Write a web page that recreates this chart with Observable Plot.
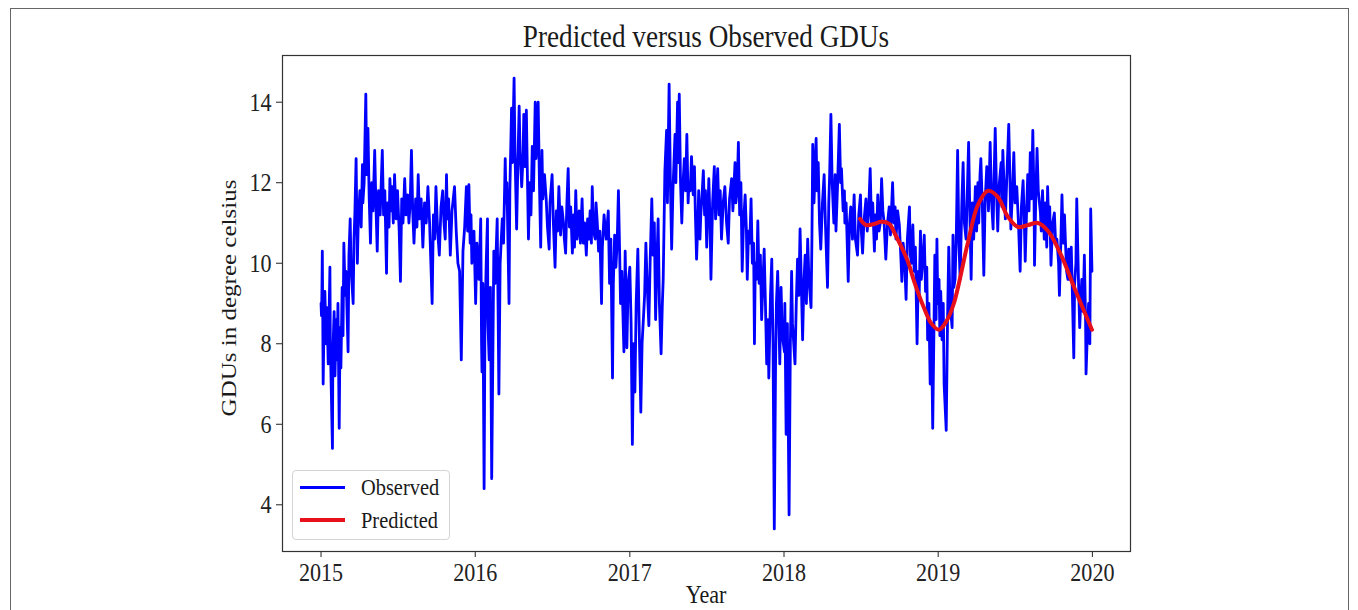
<!DOCTYPE html>
<html><head><meta charset="utf-8">
<script src="https://cdn.jsdelivr.net/npm/d3@7"></script>
<script src="https://cdn.jsdelivr.net/npm/@observablehq/plot@0.6"></script>
<style>
html,body{margin:0;padding:0;background:#fff;}
#wrap{position:relative;width:1358px;height:610px;overflow:hidden;font-family:"Liberation Serif","Times New Roman",serif;color:#1a1a1a;}
#border{position:absolute;left:10px;top:8px;width:1339px;height:700px;border:1px solid #666;box-sizing:border-box;}
#chart{position:absolute;left:0;top:0;}
.t{position:absolute;white-space:nowrap;line-height:1;}
</style></head><body>
<div id="wrap">
<div id="border"></div>
<div id="chart"></div>
<div id="title" class="t">Predicted versus Observed GDUs</div>
<div id="ylab" class="t">GDUs in degree celsius</div>
<div id="xlab" class="t">Year</div>
<div id="legend"></div>
</div>
<script>
// ---- data (day offset from 2015-01-01, GDUs in °C) ----
const obsSeries = [
[0,9.0],[1,8.7],[2,9.2],[3,10.3],[4,8.8],[5,7.0],[7,8.5],[9,9.3],[12,8.0],[14,8.9],[17,7.5],[21,9.9],[22,8.0],[27,5.4],[28,7.8],[31,8.8],[33,7.2],[36,8.6],[38,7.6],[40,9.0],[43,5.9],[45,8.4],[47,7.4],[50,9.4],[52,8.2],[54,10.5],[57,9.2],[59,9.8],[64,7.8],[66,10.2],[69,11.1],[71,9.9],[76,9.0],[78,10.6],[80,11.2],[83,12.6],[85,10.8],[86,10.0],[88,11.0],[92,11.8],[95,10.9],[98,12.45],[99,11.5],[102,12.0],[106,14.2],[108,12.2],[111,13.35],[114,11.6],[117,10.5],[120,12.0],[123,11.3],[127,12.8],[130,11.4],[133,10.3],[136,11.8],[140,11.2],[145,12.8],[148,11.2],[151,11.8],[155,9.75],[157,11.5],[161,10.9],[163,12.1],[166,11.3],[168,11.9],[171,11.0],[174,12.2],[178,11.1],[181,11.8],[185,10.8],[188,9.55],[191,11.6],[194,11.0],[198,12.1],[201,11.2],[205,11.7],[208,11.0],[211,11.5],[214,12.8],[217,11.3],[220,10.5],[224,11.6],[227,10.9],[230,12.2],[233,11.1],[237,11.6],[241,10.4],[245,11.5],[249,11.0],[253,11.9],[257,11.0],[263,9.0],[266,11.2],[269,10.6],[272,11.9],[276,10.8],[280,10.2],[284,11.4],[288,11.8],[291,11.0],[294,10.6],[297,12.2],[299,11.1],[302,11.6],[306,10.2],[310,11.3],[316,11.9],[320,10.8],[324,10.0],[328,9.8],[332,7.6],[336,10.3],[340,10.9],[344,11.9],[347,10.8],
[350,11.95],[353,10.5],[355,11.2],[357,10.0],[362,10.8],[366,9.0],[369,10.5],[374,9.6],[378,11.1],[380,8.0],[381,7.3],[383,9.5],[386,4.4],[388,8.5],[391,10.0],[394,11.1],[395,8.5],[398,7.6],[401,9.4],[404,4.65],[407,8.0],[409,10.3],[412,9.5],[417,11.1],[419,9.0],[421,6.75],[424,10.0],[429,11.1],[432,10.5],[436,12.6],[438,11.5],[440,12.0],[445,9.0],[447,11.8],[451,13.85],[453,12.5],[457,14.6],[459,12.8],[463,10.85],[466,12.5],[469,13.9],[471,12.8],[475,11.9],[478,12.6],[480,13.7],[483,12.4],[486,13.8],[488,12.5],[491,10.6],[494,12.0],[497,11.2],[500,12.9],[503,11.8],[507,14.0],[509,12.6],[514,14.0],[517,12.0],[520,10.4],[523,12.8],[525,11.6],[529,12.2],[533,11.6],[536,10.9],[540,10.35],[542,11.5],[547,12.2],[550,11.0],[554,9.9],[557,11.3],[560,10.8],[563,11.9],[567,10.7],[570,11.4],[574,11.0],[576,10.6],[579,10.25],[582,11.5],[585,12.35],[588,10.9],[591,11.4],[595,10.25],[598,11.2],[600,10.4],[603,11.8],[606,10.6],[611,11.3],[614,10.5],[618,11.6],[621,10.5],[624,11.0],[628,10.2],[631,11.1],[634,10.6],[637,11.3],[640,10.5],[642,11.9],[645,10.8],[649,10.6],[651,11.5],[654,11.0],[657,10.3],[660,10.8],[664,9.0],[666,10.4],[670,11.2],[675,10.6],[680,11.3],[683,9.5],[686,10.6],[690,7.15],[692,9.5],[695,10.7],[698,9.9],[701,10.5],[704,11.8],[707,10.2],[709,9.0],[712,9.8],[717,7.8],
[720,10.3],[724,7.9],[727,9.5],[731,9.9],[734,8.5],[737,5.5],[740,8.0],[743,6.8],[746,9.0],[750,10.35],[753,8.5],[757,6.3],[760,8.0],[763,8.6],[766,9.2],[769,10.5],[772,9.5],[776,8.45],[779,10.0],[783,11.6],[786,10.2],[789,11.0],[792,8.6],[795,10.0],[798,11.1],[801,9.0],[805,7.75],[808,9.0],[810,9.6],[814,12.3],[818,13.3],[820,11.5],[824,14.45],[827,12.0],[830,10.35],[833,11.8],[838,13.2],[840,12.0],[844,14.0],[846,12.5],[848,14.2],[851,12.0],[854,11.0],[857,12.0],[860,12.6],[863,11.8],[866,13.2],[869,11.5],[871,12.0],[874,11.8],[877,12.65],[881,11.7],[884,12.4],[886,11.3],[889,10.1],[892,11.0],[894,11.8],[897,10.6],[899,11.2],[902,11.7],[905,12.3],[908,11.2],[910,11.8],[913,10.4],[916,11.4],[918,12.1],[921,11.0],[923,9.6],[927,11.5],[931,12.4],[934,11.1],[939,12.35],[942,11.2],[945,11.8],[948,10.6],[952,11.5],[956,11.9],[960,11.0],[964,10.5],[967,11.6],[972,12.1],[975,11.3],[980,12.5],[982,11.5],[985,11.8],[988,13.0],[991,11.2],[994,12.0],[997,9.8],[1000,11.0],[1004,11.7],[1007,10.8],[1009,9.6],[1012,10.8],[1015,10.5],[1018,11.6],[1021,10.0],[1024,10.5],[1026,8.0],[1028,10.0],[1031,9.6],[1034,11.05],[1037,9.5],[1040,10.2],[1043,8.6],[1046,9.5],[1049,10.35],[1052,9.0],[1055,7.5],[1058,8.6],[1060,7.15],[1064,9.2],[1067,10.1],[1070,8.0],[1073,3.4],[1076,7.5],[1078,9.0],[1081,9.8],[1084,8.5],[1086,7.5],
[1089,9.4],[1092,8.2],[1097,7.8],[1098,9.0],[1101,5.75],[1104,8.5],[1108,3.75],[1111,8.0],[1114,9.8],[1116,8.5],[1119,8.0],[1122,7.5],[1125,9.0],[1128,10.1],[1131,9.2],[1134,10.85],[1137,9.5],[1140,8.1],[1143,9.5],[1146,10.2],[1149,9.0],[1152,10.6],[1155,9.6],[1160,8.9],[1162,10.5],[1164,12.95],[1167,11.5],[1172,13.1],[1174,11.8],[1177,12.5],[1180,11.0],[1183,10.35],[1187,11.5],[1191,12.2],[1194,11.0],[1199,9.4],[1202,11.5],[1204,12.2],[1207,13.7],[1210,12.0],[1214,11.0],[1217,12.2],[1219,10.8],[1223,12.0],[1227,13.45],[1230,12.0],[1232,12.35],[1236,11.3],[1239,11.8],[1240,11.0],[1243,11.5],[1248,9.55],[1251,11.0],[1254,11.4],[1258,10.6],[1262,11.7],[1265,10.6],[1270,10.2],[1273,11.2],[1277,11.7],[1279,10.8],[1282,10.25],[1285,11.0],[1290,11.6],[1293,10.8],[1296,11.2],[1300,12.35],[1303,11.0],[1306,11.5],[1310,10.3],[1312,11.2],[1315,10.6],[1318,11.7],[1321,10.8],[1324,11.0],[1327,12.1],[1330,11.3],[1333,11.0],[1337,10.1],[1341,11.0],[1345,11.4],[1348,10.7],[1353,12.0],[1356,11.0],[1359,11.4],[1361,10.6],[1365,11.3],[1369,10.95],[1372,10.3],[1375,9.55],[1378,10.5],[1381,10.2],[1385,9.1],[1388,10.6],[1393,11.4],[1395,10.2],[1398,10.0],[1401,10.95],[1404,9.8],[1407,10.4],[1411,8.0],[1414,9.8],[1416,9.2],[1419,10.8],[1421,9.6],[1424,10.0],[1428,10.7],[1431,9.3],[1434,9.9],[1436,8.1],[1439,9.0],[1442,7.0],[1445,8.5],[1448,5.9],[1451,8.4],[1453,10.2],[1456,8.6],
[1458,10.6],[1460,9.0],[1463,9.6],[1465,8.2],[1467,9.3],[1470,8.1],[1473,9.0],[1475,7.0],[1480,5.85],[1483,8.5],[1486,10.4],[1489,9.0],[1494,8.4],[1496,10.7],[1498,9.4],[1501,9.6],[1504,10.8],[1507,12.8],[1510,10.5],[1513,9.6],[1517,11.5],[1520,12.5],[1523,11.0],[1527,10.6],[1530,11.8],[1533,13.0],[1536,11.2],[1539,9.6],[1542,11.5],[1545,10.6],[1549,11.9],[1552,10.8],[1555,12.0],[1557,11.0],[1560,12.2],[1562,12.6],[1566,11.2],[1569,9.7],[1572,11.5],[1576,12.4],[1580,11.3],[1584,13.0],[1587,11.6],[1591,10.85],[1593,12.0],[1596,13.35],[1599,11.8],[1602,10.8],[1605,11.9],[1610,12.5],[1612,11.4],[1614,12.8],[1618,11.6],[1620,11.1],[1623,12.0],[1628,13.45],[1631,12.0],[1633,10.85],[1637,11.8],[1640,12.75],[1643,11.5],[1647,11.9],[1651,11.0],[1655,9.8],[1658,11.4],[1662,12.05],[1665,11.0],[1667,10.05],[1670,11.2],[1673,12.2],[1676,11.3],[1679,12.75],[1682,11.6],[1685,13.3],[1688,11.5],[1689,9.95],[1692,11.6],[1695,12.85],[1698,11.8],[1703,11.25],[1705,10.8],[1708,11.8],[1712,10.6],[1715,11.5],[1718,10.4],[1720,11.9],[1723,10.8],[1725,11.4],[1728,9.95],[1732,11.0],[1736,11.25],[1739,10.5],[1742,10.6],[1746,10.0],[1748,9.2],[1752,10.8],[1754,11.7],[1757,10.5],[1760,11.2],[1762,10.6],[1765,9.8],[1768,9.6],[1770,10.35],[1773,9.6],[1776,10.4],[1778,9.55],[1782,7.65],[1784,9.5],[1787,10.0],[1789,11.6],[1793,9.6],[1796,8.4],[1799,9.2],[1801,9.6],[1804,8.8],[1807,10.2],[1810,8.5],[1811,7.25],[1814,8.2],[1817,9.0],[1820,8.0],[1822,11.35],[1825,9.8]
];
const predSeries = [
[1276,11.1],[1290,10.95],[1311,10.98],[1325,11.03],[1345,10.98],[1359,10.72],[1389,10.05],[1404,9.55],[1427,8.9],[1445,8.5],[1463,8.35],[1480,8.55],[1498,9.0],[1531,10.5],[1555,11.45],[1579,11.8],[1602,11.65],[1626,11.15],[1650,10.9],[1674,10.95],[1697,11.0],[1721,10.8],[1752,10.2],[1783,9.4],[1825,8.35]
];
const yearTicks = [2015, 2016, 2017, 2018, 2019, 2020];
const gduTicks = [4, 6, 8, 10, 12, 14];
const legendItems = [
  {label: "Observed", color: "#0000ff", width: 2.5},
  {label: "Predicted", color: "#e8101a", width: 4}
];

const FONT = "'Liberation Serif','Times New Roman',serif";
const SX = 0.85; // horizontal glyph compression of the source image
const DAY0 = Date.UTC(2015, 0, 1);
const toDate = d => new Date(DAY0 + d * 864e5);

const obs = obsSeries.map(([d, v]) => ({date: toDate(d), gdu: v}));
const pred = predSeries.map(([d, v]) => ({date: toDate(d), gdu: v}));

const [d0, d1] = d3.extent(obsSeries, d => d[0]);
const dm = (d1 - d0) * 0.05;
const [v0, v1] = d3.extent(obsSeries, d => d[1]);
const vm = (v1 - v0) * 0.05;

const chart = Plot.plot({
  width: 1358, height: 610,
  marginLeft: 282, marginRight: 228, marginTop: 55, marginBottom: 59,
  style: {fontFamily: FONT, fontSize: "26px", color: "#222", background: "transparent", overflow: "visible"},
  x: {type: "utc", domain: [toDate(d0 - dm), toDate(d1 + dm)]},
  y: {domain: [v0 - vm, v1 + vm]},
  marks: [
    Plot.axisX({ticks: yearTicks.map(y => new Date(Date.UTC(y, 0, 1))), tickFormat: d => String(d.getUTCFullYear()),
      tickSize: 6, tickPadding: 5, label: null, fontSize: 26}),
    Plot.axisY({ticks: gduTicks, tickSize: 6, tickPadding: 5, label: null, fontSize: 26}),
    Plot.line(obs, {x: "date", y: "gdu", stroke: "#0000ff", strokeWidth: 2.8}),
    Plot.line(pred, {x: "date", y: "gdu", stroke: "#e8101a", strokeWidth: 4, curve: "catmull-rom"}),
    Plot.frame({stroke: "#333", strokeWidth: 1.2})
  ]
});
document.getElementById("chart").appendChild(chart);

// compress tick label glyphs horizontally about their anchor
chart.querySelectorAll('g[aria-label="x-axis tick label"] text, g[aria-label="y-axis tick label"] text').forEach(t => {
  const x = +t.getAttribute("x") || 0, y = +t.getAttribute("y") || 0;
  const tr = t.getAttribute("transform") || "";
  t.setAttribute("transform", `${tr} translate(${x},${y}) scale(${SX},1) translate(${-x},${-y})`);
});

function place(id, css) { Object.assign(document.getElementById(id).style, css); }
place("title", {left: "706px", top: "20px", fontSize: "32px", transform: `translateX(-50%) scaleX(${SX})`});
place("xlab", {left: "706px", top: "582px", fontSize: "26px", transform: `translateX(-50%) scaleX(${SX})`});
place("ylab", {left: "229px", top: "298px", fontSize: "25px", transform: `translate(-50%,-50%) rotate(-90deg) scaleY(${SX})`});

const lg = document.getElementById("legend");
Object.assign(lg.style, {position: "absolute", left: "292px", top: "470px", width: "158px", height: "70px",
  border: "1px solid #d4d4d4", borderRadius: "4px", background: "rgba(255,255,255,0.85)", boxSizing: "border-box"});
legendItems.forEach((it, i) => {
  const cy = 16.5 + i * 32.5;
  const ln = document.createElement("div");
  Object.assign(ln.style, {position: "absolute", left: "7px", top: (cy - it.width / 2) + "px", width: "45px", height: it.width + "px", background: it.color});
  lg.appendChild(ln);
  const tx = document.createElement("div");
  tx.className = "t";
  tx.textContent = it.label;
  Object.assign(tx.style, {left: "68px", top: (cy - 12.5) + "px", fontSize: "24px", transformOrigin: "0 50%", transform: `scaleX(${SX})`});
  lg.appendChild(tx);
});
</script>
</body></html>
